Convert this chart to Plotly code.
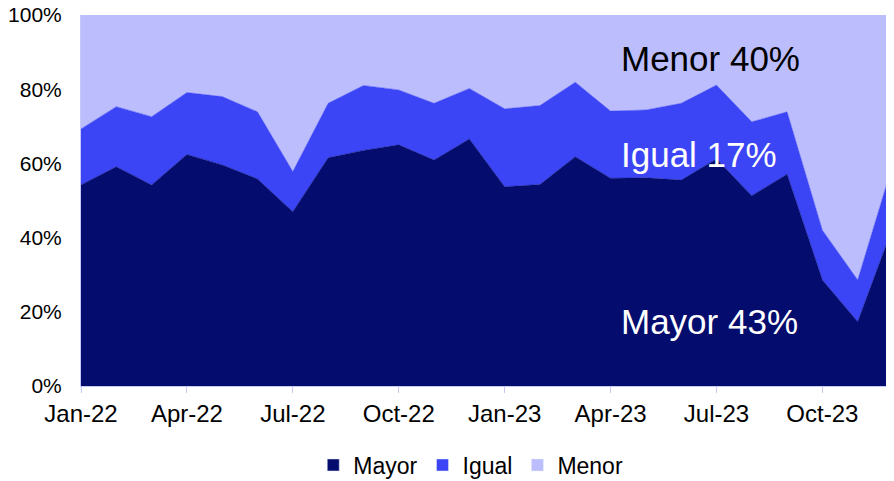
import plotly.graph_objects as go

# monthly shares (%)
months = ["Jan-22", "Feb-22", "Mar-22", "Apr-22", "May-22", "Jun-22",
          "Jul-22", "Aug-22", "Sep-22", "Oct-22", "Nov-22", "Dec-22",
          "Jan-23", "Feb-23", "Mar-23", "Apr-23", "May-23", "Jun-23",
          "Jul-23", "Aug-23", "Sep-23", "Oct-23", "Nov-23", "Dec-23"]

mayor = [54.2, 59.1, 54.2, 62.4, 59.6, 55.8, 47.0, 61.5, 63.5, 65.0, 60.9, 66.6,
         53.7, 54.3, 61.8, 56.0, 56.1, 55.5, 61.2, 51.3, 57.1, 28.6, 17.3, 43.0]
igual = [15.1, 16.2, 18.4, 16.7, 18.4, 18.1, 10.8, 14.7, 17.5, 14.8, 15.3, 13.6,
         21.0, 21.3, 20.1, 18.1, 18.3, 20.7, 19.9, 19.9, 16.8, 13.4, 11.3, 17.0]
menor = [30.7, 24.7, 27.4, 20.9, 22.0, 26.1, 42.2, 23.8, 19.0, 20.2, 23.8, 19.8,
         25.3, 24.4, 18.1, 25.9, 25.6, 23.8, 18.9, 28.8, 26.1, 58.0, 71.4, 40.0]

tick_labels = ["Jan-22", "Apr-22", "Jul-22", "Oct-22",
               "Jan-23", "Apr-23", "Jul-23", "Oct-23"]
y_ticks = [0, 20, 40, 60, 80, 100]
y_labels = ["0%", "20%", "40%", "60%", "80%", "100%"]

series = [("Mayor", mayor, "#040c6e"),
          ("Igual", igual, "#3b45f5"),
          ("Menor", menor, "#bcbdfd")]

FONT = "Liberation Sans, Arial, sans-serif"
AXIS_COLOR = "#c8c8f8"

fig = go.Figure()

for name, vals, color in series:
    fig.add_trace(go.Scatter(
        x=months, y=vals, name=name, stackgroup="one",
        mode="lines", line=dict(width=0.5, color=color),
        fillcolor=color, showlegend=False, hoverinfo="x+y+name",
    ))

# square legend markers
for name, vals, color in series:
    fig.add_trace(go.Bar(x=[None], y=[None], name=name,
                         marker=dict(color=color), showlegend=True))

# end-of-period labels
fig.add_annotation(x=15.25, y=88.2, xref="x", yref="y", text="Menor 40%",
                   showarrow=False, xanchor="left", yanchor="middle",
                   font=dict(size=35, color="black", family=FONT))
fig.add_annotation(x=15.25, y=62.3, xref="x", yref="y", text="Igual 17%",
                   showarrow=False, xanchor="left", yanchor="middle",
                   font=dict(size=35, color="white", family=FONT))
fig.add_annotation(x=15.25, y=17.3, xref="x", yref="y", text="Mayor 43%",
                   showarrow=False, xanchor="left", yanchor="middle",
                   font=dict(size=35, color="white", family=FONT))

# page body has an 8px margin, so the figure is sized/offset to compensate
fig.update_layout(
    width=886, height=473,
    margin=dict(l=73, r=1, t=7, b=95, autoexpand=False),
    plot_bgcolor="white", paper_bgcolor="white",
    font=dict(family=FONT, color="black"),
    barmode="overlay",
    legend=dict(orientation="h", x=0.48, xanchor="center", y=-0.213, yanchor="middle",
                font=dict(size=23), itemwidth=30, traceorder="normal"),
    xaxis=dict(
        type="category", categoryorder="array", categoryarray=months,
        range=[0, len(months) - 1], automargin=False,
        tickmode="array", tickvals=tick_labels, ticktext=tick_labels,
        ticks="outside", ticklen=6, tickcolor=AXIS_COLOR,
        showline=True, linecolor=AXIS_COLOR, linewidth=1,
        showgrid=False, tickfont=dict(size=24), ticklabeloverflow="allow",
    ),
    yaxis=dict(
        range=[0, 100], tickmode="array", tickvals=y_ticks, ticktext=y_labels,
        showgrid=False, zeroline=False, automargin=False,
        showline=True, linecolor=AXIS_COLOR, linewidth=1,
        ticks="", tickfont=dict(size=21), ticklabelstandoff=14,
        ticklabeloverflow="allow",
    ),
)

fig.write_html("out.html")
